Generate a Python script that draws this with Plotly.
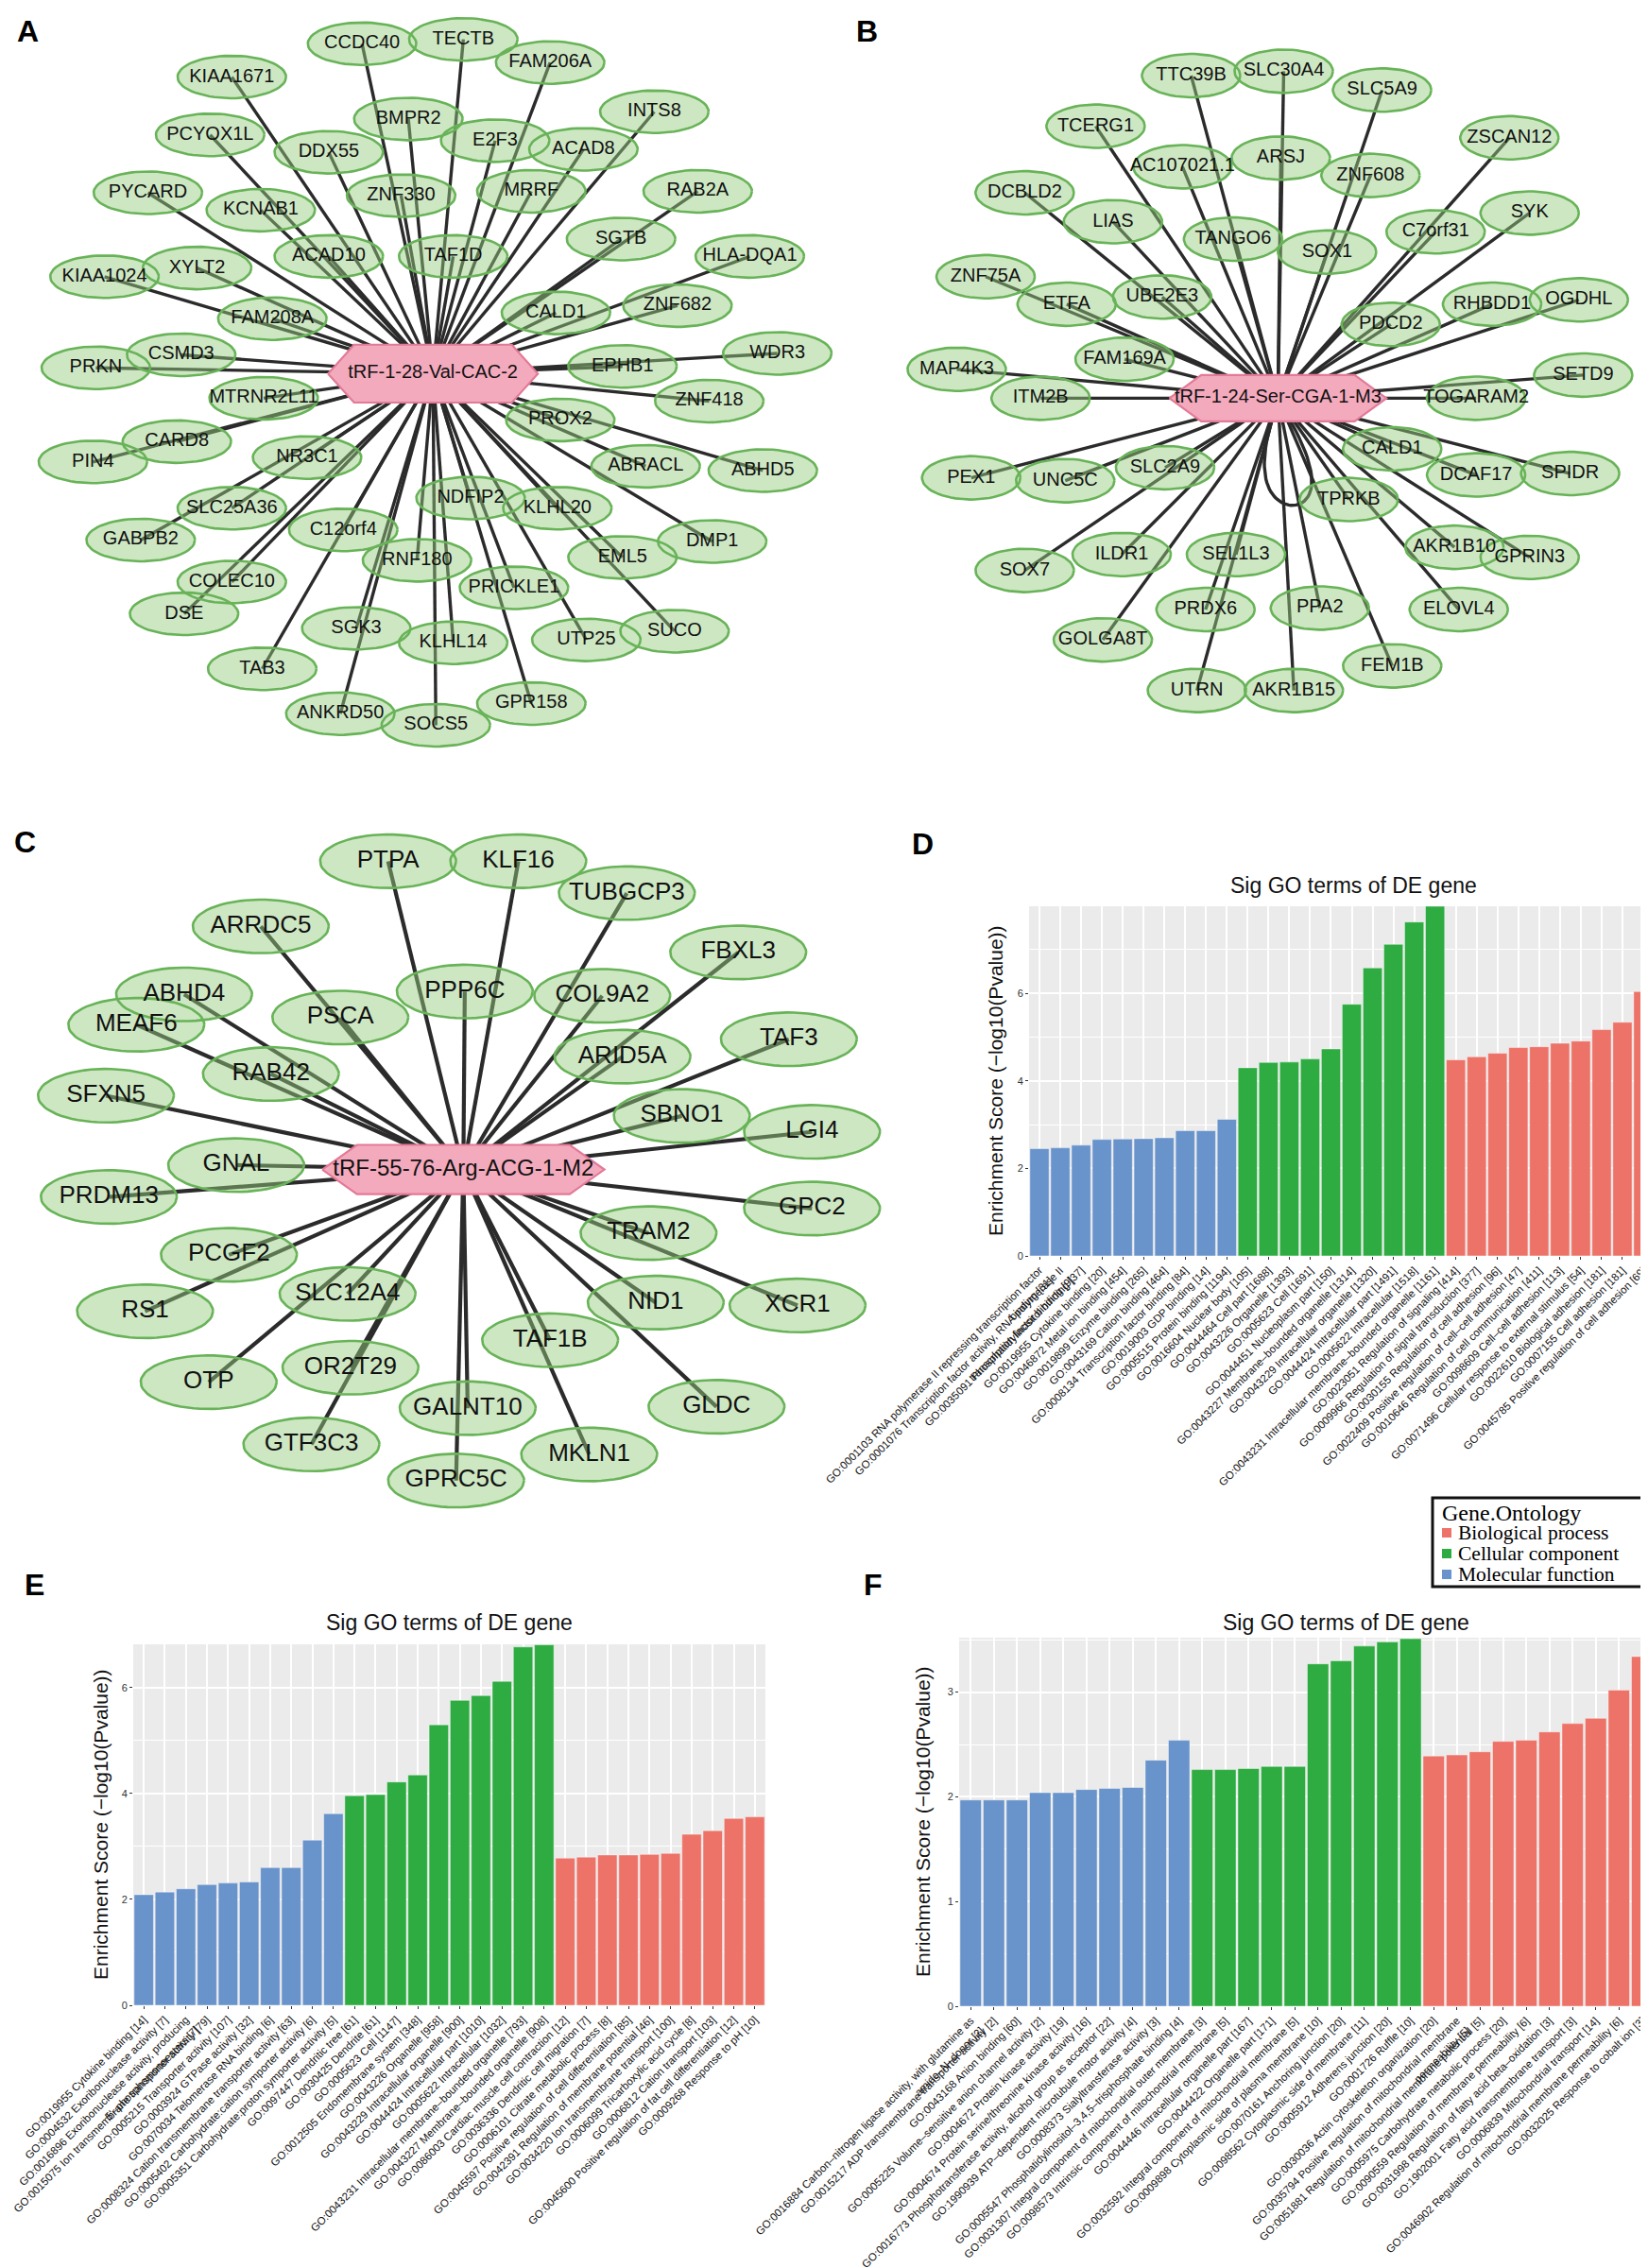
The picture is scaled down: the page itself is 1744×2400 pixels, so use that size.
import numpy as np
import plotly.graph_objects as go

W, H = 1744, 2400
S = W / 1139.0  # positions below were read on a 1139-wide copy

# ---------------- Network A ----------------
A_center_name = "tRF-1-28-Val-CAC-2"
A_center_pos = [294, 253]
A_genes = ["CCDC40", "TECTB", "FAM206A", "KIAA1671", "INTS8", "PCYOX1L", "BMPR2", "E2F3", "DDX55", "ACAD8",
           "PYCARD", "RAB2A", "KCNAB1", "ZNF330", "MRRF", "SGTB", "HLA-DQA1", "ACAD10", "TAF1D", "KIAA1024",
           "XYLT2", "CALD1", "ZNF682", "FAM208A", "PRKN", "CSMD3", "EPHB1", "WDR3", "MTRNR2L11", "ZNF418",
           "CARD8", "PROX2", "PIN4", "NR3C1", "ABRACL", "ABHD5", "SLC25A36", "NDFIP2", "KLHL20", "GABPB2",
           "C12orf4", "DMP1", "EML5", "RNF180", "COLEC10", "PRICKLE1", "DSE", "SGK3", "KLHL14", "UTP25",
           "SUCO", "TAB3", "GPR158", "ANKRD50", "SOCS5"]
A_x = [245, 315, 375, 155, 447, 140, 277, 337, 222, 398,
       97, 477, 175, 272, 362, 424, 513, 222, 308, 67,
       131, 379, 463, 183, 61, 120, 425, 532, 177, 485,
       117, 382, 59, 207, 441, 522, 155, 320, 380, 92,
       232, 487, 425, 283, 155, 350, 122, 241, 308, 400,
       461, 176, 362, 230, 296]
A_y = [25, 22, 38, 48, 72, 88, 77, 92, 100, 98,
       128, 127, 140, 130, 127, 160, 172, 172, 172, 186,
       180, 211, 206, 215, 249, 240, 248, 239, 270, 272,
       300, 285, 314, 311, 317, 320, 346, 339, 346, 368,
       361, 369, 380, 382, 397, 401, 419, 429, 439, 437,
       431, 457, 481, 488, 496]

# ---------------- Network B ----------------
B_center_name = "tRF-1-24-Ser-CGA-1-M3"
B_center_pos = [878, 270]
B_genes = ["TTC39B", "SLC30A4", "SLC5A9", "TCERG1", "AC107021.1", "ARSJ", "ZNF608", "ZSCAN12", "DCBLD2", "LIAS",
           "TANGO6", "SOX1", "C7orf31", "SYK", "ZNF75A", "ETFA", "UBE2E3", "PDCD2", "RHBDD1", "OGDHL",
           "FAM169A", "MAP4K3", "ITM2B", "TOGARAM2", "SETD9", "CALD1", "DCAF17", "SPIDR", "PEX1", "UNC5C",
           "SLC2A9", "TPRKB", "SEL1L3", "ILDR1", "AKR1B10", "GPRIN3", "SOX7", "PRDX6", "PPA2", "ELOVL4",
           "GOLGA8T", "FEM1B", "UTRN", "AKR1B15"]
B_x = [818, 882, 950, 752, 812, 880, 942, 1038, 703, 764,
       847, 912, 987, 1052, 676, 732, 798, 956, 1026, 1086,
       772, 656, 714, 1015, 1089, 957, 1015, 1080, 666, 731,
       800, 927, 849, 770, 1000, 1052, 703, 828, 907, 1003,
       757, 957, 822, 889]
B_y = [47, 44, 57, 82, 110, 104, 116, 90, 128, 148,
       160, 169, 155, 142, 186, 205, 200, 219, 205, 202,
       243, 250, 270, 270, 254, 305, 323, 322, 325, 327,
       318, 340, 378, 378, 373, 380, 389, 416, 415, 416,
       437, 455, 472, 472]

# ---------------- Network C ----------------
C_center_name = "tRF-55-76-Arg-ACG-1-M2"
C_center_pos = [315, 803]
C_genes = ["ARRDC5", "PTPA", "KLF16", "TUBGCP3", "ABHD4", "PPP6C", "COL9A2", "FBXL3", "MEAF6", "PSCA",
           "ARID5A", "TAF3", "RAB42", "SFXN5", "SBNO1", "LGI4", "GNAL", "PRDM13", "GPC2", "TRAM2",
           "PCGF2", "SLC12A4", "NID1", "XCR1", "RS1", "TAF1B", "OR2T29", "OTP", "GLDC", "GALNT10",
           "GTF3C3", "MKLN1", "GPRC5C"]
C_x = [175, 263, 353, 428, 122, 316, 411, 505, 89, 230,
       425, 540, 182, 68, 466, 556, 158, 70, 556, 443,
       153, 235, 448, 546, 95, 375, 237, 139, 490, 318,
       210, 402, 310]
C_y = [635, 590, 590, 612, 682, 680, 683, 653, 703, 698,
       725, 713, 737, 752, 766, 777, 800, 822, 830, 847,
       862, 889, 895, 897, 901, 921, 940, 950, 967, 968,
       993, 1000, 1018]

# ---------------- GO bar data ----------------
D_mf_terms = ["GO:0001103 RNA polymerase II repressing transcription factor<br>binding [31]",
              "GO:0001076 Transcription factor activity, RNA polymerase II<br>transcription factor binding [9]",
              "GO:0035091 Phosphatidylinositol binding [37]",
              "GO:0019955 Cytokine binding [20]",
              "GO:0046872 Metal ion binding [454]",
              "GO:0019899 Enzyme binding [265]",
              "GO:0043169 Cation binding [464]",
              "GO:0008134 Transcription factor binding [84]",
              "GO:0019003 GDP binding [14]",
              "GO:0005515 Protein binding [1194]"]
D_mf_scores = [2.45, 2.47, 2.53, 2.66, 2.67, 2.68, 2.70, 2.86, 2.86, 3.12]
D_cc_terms = ["GO:0016604 Nuclear body [105]",
              "GO:0044464 Cell part [1688]",
              "GO:0043226 Organelle [1393]",
              "GO:0005623 Cell [1691]",
              "GO:0044451 Nucleoplasm part [150]",
              "GO:0043227 Membrane\u2013bounded organelle [1314]",
              "GO:0043229 Intracellular organelle [1320]",
              "GO:0044424 Intracellular part [1491]",
              "GO:0005622 Intracellular [1518]",
              "GO:0043231 Intracellular membrane\u2013bounded organelle [1161]"]
D_cc_scores = [4.30, 4.42, 4.43, 4.50, 4.73, 5.75, 6.58, 7.12, 7.63, 7.99]
D_bp_terms = ["GO:0023051 Regulation of signaling [414]",
              "GO:0009966 Regulation of signal transduction [377]",
              "GO:0030155 Regulation of cell adhesion [96]",
              "GO:0022409 Positive regulation of cell\u2013cell adhesion [47]",
              "GO:0010646 Regulation of cell communication [411]",
              "GO:0098609 Cell\u2013cell adhesion [113]",
              "GO:0071496 Cellular response to external stimulus [54]",
              "GO:0022610 Biological adhesion [181]",
              "GO:0007155 Cell adhesion [181]",
              "GO:0045785 Positive regulation of cell adhesion [69]"]
D_bp_scores = [4.48, 4.55, 4.63, 4.76, 4.78, 4.86, 4.91, 5.17, 5.34, 6.04]

E_mf_terms = ["GO:0019955 Cytokine binding [14]",
              "GO:0004532 Exoribonuclease activity [7]",
              "GO:0016896 Exoribonuclease activity, producing<br>5'\u2013phosphomonoesters [7]",
              "GO:0015075 Ion transmembrane transporter activity [79]",
              "GO:0005215 Transporter activity [107]",
              "GO:0003924 GTPase activity [32]",
              "GO:0070034 Telomerase RNA binding [6]",
              "GO:0008324 Cation transmembrane transporter activity [63]",
              "GO:0005402 Carbohydrate:cation symporter activity [6]",
              "GO:0005351 Carbohydrate:proton symporter activity [5]"]
E_mf_scores = [2.09, 2.14, 2.20, 2.28, 2.31, 2.33, 2.60, 2.60, 3.12, 3.62]
E_cc_terms = ["GO:0097447 Dendritic tree [61]",
              "GO:0030425 Dendrite [61]",
              "GO:0005623 Cell [1147]",
              "GO:0012505 Endomembrane system [348]",
              "GO:0043226 Organelle [958]",
              "GO:0043229 Intracellular organelle [900]",
              "GO:0044424 Intracellular part [1010]",
              "GO:0005622 Intracellular [1032]",
              "GO:0043231 Intracellular membrane\u2013bounded organelle [793]",
              "GO:0043227 Membrane\u2013bounded organelle [908]"]
E_cc_scores = [3.96, 3.98, 4.22, 4.35, 5.30, 5.76, 5.85, 6.12, 6.77, 6.81]
E_bp_terms = ["GO:0086003 Cardiac muscle cell contraction [12]",
              "GO:0036336 Dendritic cell migration [7]",
              "GO:0006101 Citrate metabolic process [8]",
              "GO:0045597 Positive regulation of cell differentiation [85]",
              "GO:0042391 Regulation of membrane potential [46]",
              "GO:0034220 Ion transmembrane transport [100]",
              "GO:0006099 Tricarboxylic acid cycle [8]",
              "GO:0006812 Cation transport [103]",
              "GO:0045600 Positive regulation of fat cell differentiation [12]",
              "GO:0009268 Response to pH [10]"]
E_bp_scores = [2.78, 2.80, 2.84, 2.84, 2.85, 2.87, 3.23, 3.30, 3.53, 3.56]

F_mf_terms = ["GO:0016884 Carbon\u2013nitrogen ligase activity, with glutamine as<br>amido\u2013N\u2013donor [2]",
              "GO:0015217 ADP transmembrane transporter activity [2]",
              "GO:0043168 Anion binding [60]",
              "GO:0005225 Volume\u2013sensitive anion channel activity [2]",
              "GO:0004672 Protein kinase activity [19]",
              "GO:0004674 Protein serine/threonine kinase activity [16]",
              "GO:0016773 Phosphotransferase activity, alcohol group as acceptor [22]",
              "GO:1990939 ATP\u2013dependent microtubule motor activity [4]",
              "GO:0008373 Sialyltransferase activity [3]",
              "GO:0005547 Phosphatidylinositol\u20133,4,5\u2013trisphosphate binding [4]"]
F_mf_scores = [1.97, 1.97, 1.97, 2.04, 2.04, 2.07, 2.08, 2.09, 2.35, 2.54]
F_cc_terms = ["GO:0031307 Integral component of mitochondrial outer membrane [3]",
              "GO:0098573 Intrinsic component of mitochondrial membrane [5]",
              "GO:0044446 Intracellular organelle part [167]",
              "GO:0044422 Organelle part [171]",
              "GO:0032592 Integral component of mitochondrial membrane [5]",
              "GO:0009898 Cytoplasmic side of plasma membrane [10]",
              "GO:0070161 Anchoring junction [20]",
              "GO:0098562 Cytoplasmic side of membrane [11]",
              "GO:0005912 Adherens junction [20]",
              "GO:0001726 Ruffle [10]"]
F_cc_scores = [2.26, 2.26, 2.27, 2.29, 2.29, 3.27, 3.30, 3.44, 3.48, 3.51]
F_bp_terms = ["GO:0030036 Actin cytoskeleton organization [20]",
              "GO:0035794 Positive regulation of mitochondrial membrane<br>permeability [5]",
              "GO:0051881 Regulation of mitochondrial membrane potential [5]",
              "GO:0005975 Carbohydrate metabolic process [20]",
              "GO:0090559 Regulation of membrane permeability [6]",
              "GO:0031998 Regulation of fatty acid beta\u2013oxidation [3]",
              "GO:1902001 Fatty acid transmembrane transport [3]",
              "GO:0006839 Mitochondrial transport [14]",
              "GO:0046902 Regulation of mitochondrial membrane permeability [6]",
              "GO:0032025 Response to cobalt ion [3]"]
F_bp_scores = [2.39, 2.40, 2.43, 2.53, 2.54, 2.62, 2.70, 2.75, 3.02, 3.34]

GO_NAMES = ["Biological process", "Cellular component", "Molecular function"]
GO_COLORS = ["#ED7369", "#2EAC41", "#6993CB"]
LEGEND_TITLE = "Gene.Ontology"

SANS = "Liberation Sans, Arial, sans-serif"
SERIF = "Liberation Serif, Times New Roman, serif"

fig = go.Figure()


# ---------------- network drawing ----------------
def add_network(center_name, center_pos, genes, gx, gy, rx, ry, hw, hh, hk,
                fsize, csize, ew, self_loop=False):
    cx, cy = center_pos[0] * S, center_pos[1] * S
    ex, ey = [], []
    for x, y in zip(gx, gy):
        ex += [cx, x * S, None]
        ey += [cy, y * S, None]
    if self_loop:
        tt = np.linspace(0, np.pi, 60)
        ex += list(cx + S * (16 * np.sin(2 * tt) + 10 * np.sin(tt))) + [None]
        ey += list(cy + S * (74 * np.sin(tt))) + [None]
    fig.add_trace(go.Scatter(x=ex, y=ey, mode="lines", line=dict(color="#2b2b2b", width=ew),
                             hoverinfo="skip", showlegend=False, xaxis="x", yaxis="y"))
    t = np.linspace(0, 2 * np.pi, 64)
    px_, py_ = [], []
    for x, y in zip(gx, gy):
        px_ += list(x * S + rx * S * np.cos(t)) + [None]
        py_ += list(y * S + ry * S * np.sin(t)) + [None]
    fig.add_trace(go.Scatter(x=px_, y=py_, mode="lines", fill="toself",
                             fillcolor="rgba(150,205,128,0.47)",
                             line=dict(color="#68B358", width=2.6),
                             hoverinfo="skip", showlegend=False, xaxis="x", yaxis="y"))
    a, b, k = hw * S / 2, hh * S / 2, hk * S
    hx = [cx - a, cx - a + k, cx + a - k, cx + a, cx + a - k, cx - a + k, cx - a]
    hy = [cy, cy - b, cy - b, cy, cy + b, cy + b, cy]
    fig.add_trace(go.Scatter(x=hx, y=hy, mode="lines", fill="toself", fillcolor="#F4AABD",
                             line=dict(color="#E27A98", width=2.2),
                             hoverinfo="skip", showlegend=False, xaxis="x", yaxis="y"))
    fig.add_trace(go.Scatter(x=[x * S for x in gx], y=[y * S for y in gy], mode="text",
                             text=genes, textposition="middle center",
                             textfont=dict(family=SANS, size=fsize, color="#111111"),
                             hoverinfo="skip", showlegend=False, xaxis="x", yaxis="y"))
    fig.add_trace(go.Scatter(x=[cx], y=[cy], mode="text", text=[center_name],
                             textposition="middle center",
                             textfont=dict(family=SANS, size=csize, color="#111111"),
                             hoverinfo="skip", showlegend=False, xaxis="x", yaxis="y"))


add_network(A_center_name, A_center_pos, A_genes, A_x, A_y, 37.5, 14.7, 145, 40, 18, 20, 20, 3.4)
add_network(B_center_name, B_center_pos, B_genes, B_x, B_y, 34, 15, 150, 32, 22, 20, 20, 3.4, self_loop=True)
add_network(C_center_name, C_center_pos, C_genes, C_x, C_y, 47, 18.5, 195, 34, 24, 26, 24, 4.2)

# ---------------- bar panels ----------------
panels = [
    dict(xa="x2", ya="y2", box=(1081, 951, 1742, 1321), ymax=7.99, dtick=2, minor=1,
         terms=[D_bp_terms, D_cc_terms, D_mf_terms], scores=[D_bp_scores, D_cc_scores, D_mf_scores],
         ytitle_x=1045, title_x=1424, title_y=929),
    dict(xa="x3", ya="y3", box=(133, 1732, 802, 2114), ymax=6.82, dtick=2, minor=1,
         terms=[E_bp_terms, E_cc_terms, E_mf_terms], scores=[E_bp_scores, E_cc_scores, E_mf_scores],
         ytitle_x=98, title_x=467, title_y=1709),
    dict(xa="x4", ya="y4", box=(1007, 1725, 1742, 2115), ymax=3.52, dtick=1, minor=0.5,
         terms=[F_bp_terms, F_cc_terms, F_mf_terms], scores=[F_bp_scores, F_cc_scores, F_mf_scores],
         ytitle_x=968, title_x=1416, title_y=1709),
]

annotations = []
shapes = []
layout_axes = {}

for p in panels:
    order = p["terms"][2] + p["terms"][1] + p["terms"][0]  # MF, CC, BP left to right
    for i in range(3):
        fig.add_trace(go.Bar(x=p["terms"][i], y=p["scores"][i], name=GO_NAMES[i],
                             marker=dict(color=GO_COLORS[i], line=dict(color="rgba(255,255,255,0.55)", width=0.8)),
                             showlegend=False, xaxis=p["xa"], yaxis=p["ya"], hoverinfo="skip"))
    x0, y0, x1, y1 = p["box"]
    xkey = "xaxis" + p["xa"][1:]
    ykey = "yaxis" + p["ya"][1:]
    layout_axes[xkey] = dict(domain=[x0 / W, x1 / W], anchor=p["ya"], type="category",
                             categoryorder="array", categoryarray=order,
                             tickmode="array", tickvals=order, ticktext=order,
                             range=[-0.5, len(order) - 0.5], tickangle=-45,
                             tickfont=dict(family=SANS, size=11.5, color="#111111"),
                             showgrid=True, gridcolor="white", gridwidth=1.6,
                             ticks="outside", ticklen=3, tickwidth=1.2, tickcolor="#333333",
                             showline=False, zeroline=False, automargin=False, fixedrange=True)
    layout_axes[ykey] = dict(domain=[1 - y1 / H, 1 - y0 / H], anchor=p["xa"],
                             range=[0, p["ymax"]], dtick=p["dtick"], tick0=0,
                             tickfont=dict(family=SANS, size=11, color="#333333"),
                             showgrid=True, gridcolor="white", gridwidth=2,
                             minor=dict(dtick=p["minor"], showgrid=True, gridcolor="white", gridwidth=1),
                             ticks="outside", ticklen=3, tickwidth=1.2, tickcolor="#333333",
                             showline=False, zeroline=False, automargin=False, fixedrange=True)
    shapes.append(dict(type="rect", xref=p["xa"] + " domain", yref=p["ya"] + " domain",
                       x0=0, x1=1, y0=0, y1=1, fillcolor="#EBEBEB", line=dict(width=0), layer="below"))
    annotations.append(dict(text="Sig GO terms of DE gene", xref="paper", yref="paper",
                            x=p["title_x"] / W, y=1 - p["title_y"] / H, xanchor="center", yanchor="middle",
                            showarrow=False, font=dict(family=SANS, size=23, color="#111111")))
    annotations.append(dict(text="Enrichment Score (\u2212log10(Pvalue))", xref="paper", yref="paper",
                            x=p["ytitle_x"] / W, y=1 - (y0 + y1) / 2 / H, xanchor="center", yanchor="middle",
                            textangle=-90, showarrow=False, font=dict(family=SANS, size=21, color="#111111")))

# ---------------- legend (drawn as a boxed key) ----------------
LX0, LY0, LX1, LY1 = 1508, 1577, 1732, 1671
shapes.append(dict(type="rect", xref="paper", yref="paper", x0=LX0 / W, x1=LX1 / W,
                   y0=1 - LY1 / H, y1=1 - LY0 / H, fillcolor="white",
                   line=dict(color="#111111", width=3), layer="above"))
annotations.append(dict(text=LEGEND_TITLE, xref="paper", yref="paper", x=1517 / W, y=1 - 1593 / H,
                        xanchor="left", yanchor="middle", showarrow=False, borderpad=0,
                        font=dict(family=SERIF, size=24, color="black")))
for i, (nm, col) in enumerate(zip(GO_NAMES, GO_COLORS)):
    yc = 1614 + 22 * i
    shapes.append(dict(type="rect", xref="paper", yref="paper", x0=1518 / W, x1=1528 / W,
                       y0=1 - (yc + 5) / H, y1=1 - (yc - 5) / H, fillcolor=col,
                       line=dict(width=0), layer="above"))
    annotations.append(dict(text=nm, xref="paper", yref="paper", x=1534 / W, y=1 - yc / H,
                            xanchor="left", yanchor="middle", showarrow=False, borderpad=0,
                            font=dict(family=SERIF, size=21.5, color="black")))

# panel letters
letters = ["A", "B", "C", "D", "E", "F"]
letter_x = [21, 909, 18, 968, 28, 916]
letter_y = [25, 25, 883, 885, 1669, 1669]
for L, lx, ly in zip(letters, letter_x, letter_y):
    annotations.append(dict(text="<b>" + L + "</b>", xref="paper", yref="paper",
                            x=lx / W, y=1 - ly / H, xanchor="center", yanchor="middle",
                            showarrow=False, font=dict(family=SANS, size=32, color="black")))

fig.update_layout(
    width=W, height=H, template="none",
    margin=dict(l=0, r=0, t=0, b=0, pad=0),
    paper_bgcolor="white", plot_bgcolor="rgba(0,0,0,0)",
    barmode="overlay", bargap=0.08, showlegend=False,
    xaxis=dict(domain=[0, 1], range=[0, W], visible=False, fixedrange=True),
    yaxis=dict(domain=[0, 1], range=[H, 0], visible=False, fixedrange=True),
    annotations=annotations, shapes=shapes,
    **layout_axes,
)

fig.write_html("out.html")
